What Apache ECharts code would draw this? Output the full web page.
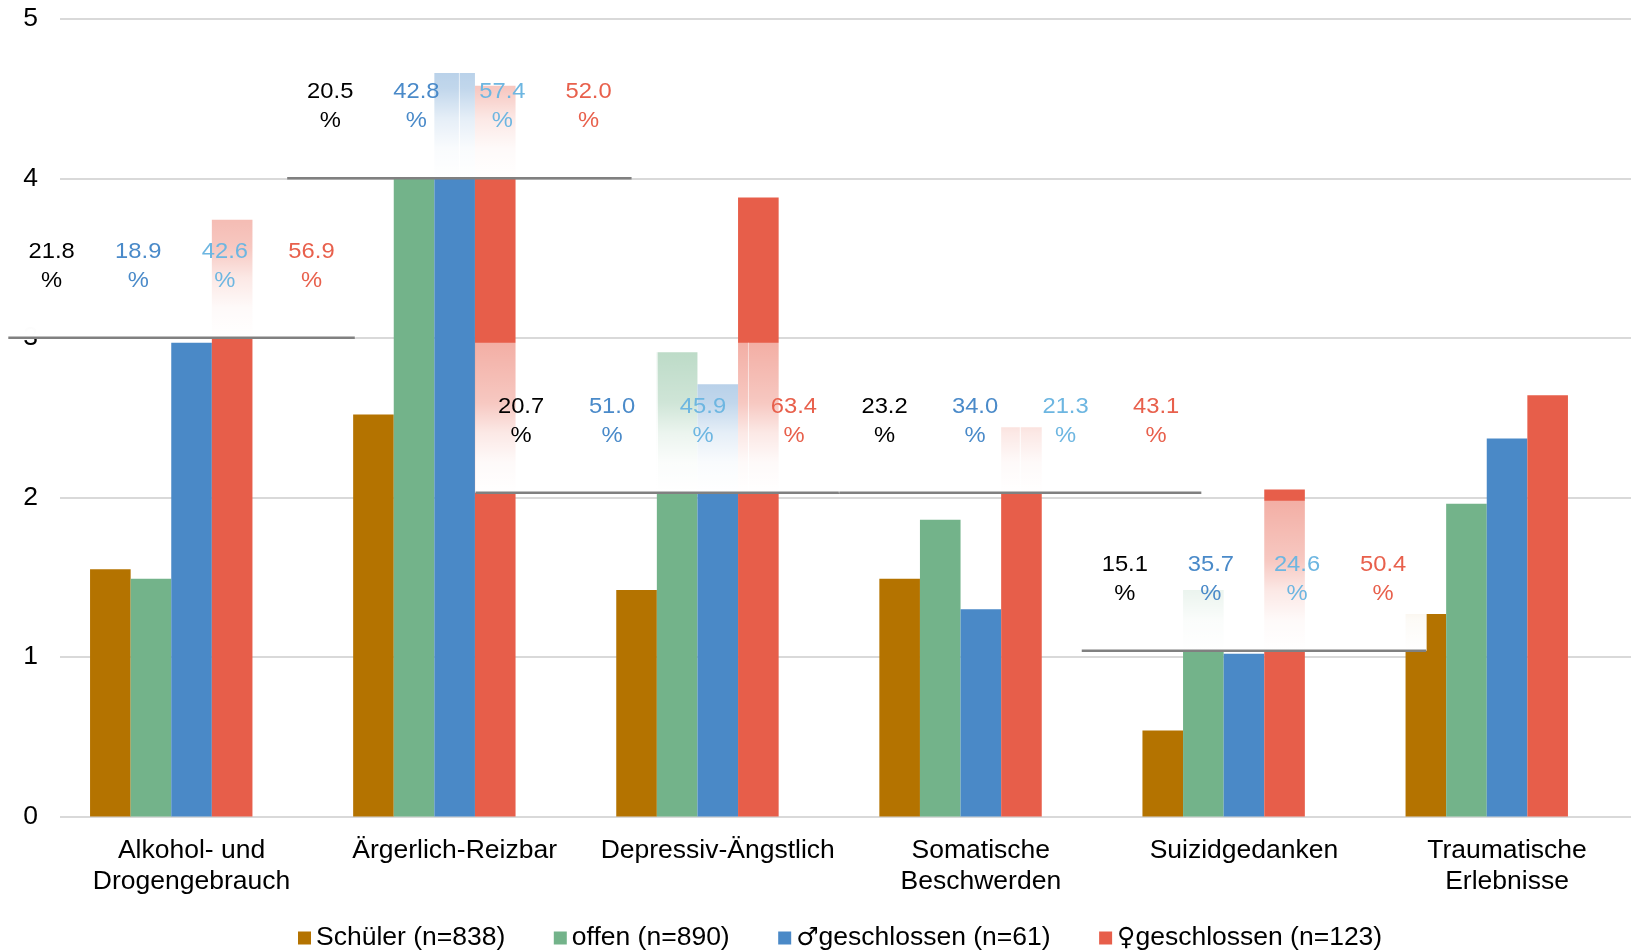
<!DOCTYPE html>
<html>
<head>
<meta charset="utf-8">
<title>Belastungen nach Gruppe</title>
<script src="https://cdn.jsdelivr.net/npm/echarts@6/dist/echarts.min.js"></script>
<style>
  html, body { margin: 0; padding: 0; background: #ffffff; }
  #chart { width: 1631px; height: 950px; }
</style>
</head>
<body>
<div id="chart"></div>
<script>
// Categories along the x axis
const categories = [
  'Alkohol- und\nDrogengebrauch',
  'Ärgerlich-Reizbar',
  'Depressiv-Ängstlich',
  'Somatische\nBeschwerden',
  'Suizidgedanken',
  'Traumatische\nErlebnisse'
];

// Series names
const seriesNames = [
  'Schüler (n=838)',
  'offen (n=890)',
  '♂geschlossen (n=61)',
  '♀geschlossen (n=123)'
];

// Mean scores per group
const schueler    = [1.55, 2.52, 1.42, 1.49, 0.54, 1.27];
const offen       = [1.49, 4.02, 2.91, 1.86, 1.42, 1.96];
const geschlM     = [2.97, 4.66, 2.71, 1.30, 1.02, 2.37];
const geschlW     = [3.74, 4.58, 3.88, 2.44, 2.05, 2.64];

// Percentages shown above the first five categories (one value per column)
const pctSchueler = [21.8, 20.5, 20.7, 23.2, 15.1];
const pctOffen    = [18.9, 42.8, 51.0, 34.0, 35.7];
const pctGeschlM  = [42.6, 57.4, 45.9, 21.3, 24.6];
const pctGeschlW  = [56.9, 52.0, 63.4, 43.1, 50.4];

// Y axis ticks
const yTicks = [0, 1, 2, 3, 4, 5];

// Placement of the percentage panels: base value on the y axis,
// horizontal shift and span measured in category widths
const panelLayout = [
  { cat: 0, base: 3.00, shift: -0.038, span: 1.317 },
  { cat: 1, base: 4.00, shift:  0.018, span: 1.309 },
  { cat: 2, base: 2.03, shift: -0.229, span: 1.383 },
  { cat: 3, base: 2.03, shift:  0.150, span: 1.376 },
  { cat: 4, base: 1.04, shift:  0.038, span: 1.309 }
];
const PANEL_HEIGHT = 0.94;

const FONT = "'Liberation Sans', Arial, Helvetica, sans-serif";
const SYMBOL_FONT = "'DejaVu Sans', 'Liberation Sans', sans-serif";
const barColors = ['#b47300', '#73b38a', '#4a89c7', '#e75e4a'];
const pctColors = ['#000000', '#4a8ac9', '#6db6e1', '#e8604c'];
const pctColumns = [pctSchueler, pctOffen, pctGeschlM, pctGeschlW];

const fade = {
  type: 'linear', x: 0, y: 0, x2: 0, y2: 1,
  colorStops: [
    { offset: 0.0, color: 'rgba(255,255,255,0.50)' },
    { offset: 0.4, color: 'rgba(255,255,255,0.66)' },
    { offset: 0.6, color: 'rgba(255,255,255,0.86)' },
    { offset: 0.8, color: 'rgba(255,255,255,0.97)' },
    { offset: 1.0, color: 'rgba(255,255,255,1)' }
  ]
};

function renderPanel(params, api) {
  const idx = api.value(2);
  const p = panelLayout[idx];
  const cat = api.value(0);
  const baseP = api.coord([cat, p.base]);
  const topP = api.coord([cat, p.base + PANEL_HEIGHT]);
  const band = api.size([1, 0])[0];
  const w = band * p.span;
  const left = baseP[0] + band * p.shift - w / 2;
  const yBottom = baseP[1];
  const yTop = topP[1];
  const colW = w / 4;
  const children = [];
  for (let k = 0; k < 4; k++) {
    children.push({
      type: 'rect',
      shape: { x: left + k * colW - 0.5, y: yTop, width: colW + 1, height: yBottom - yTop },
      style: { fill: fade }
    });
  }
  for (let k = 0; k < 4; k++) {
    children.push({
      type: 'text',
      x: left + (k + 0.5) * colW,
      y: (yTop + yBottom) / 2 + 3.5,
      scaleX: 1.08,
      style: {
        text: pctColumns[k][idx].toFixed(1) + '\n%',
        fill: pctColors[k],
        fontSize: 22,
        fontFamily: FONT,
        align: 'center',
        verticalAlign: 'middle',
        lineHeight: 29
      }
    });
  }
  children.push({
    type: 'line',
    shape: { x1: left, y1: yBottom, x2: left + w, y2: yBottom },
    style: { stroke: '#808080', lineWidth: 2.5 }
  });
  return { type: 'group', children };
}

const groups = [schueler, offen, geschlM, geschlW];

const series = groups.map((vals, i) => ({
  name: seriesNames[i],
  type: 'bar',
  data: vals,
  barWidth: 40.6,
  barGap: '0%',
  itemStyle: { color: barColors[i] },
  z: 2
}));

// empty slot that keeps each group of four bars left of the category centre
series.push({
  name: 'leer',
  type: 'bar',
  data: categories.map(() => '-'),
  barWidth: 40.6,
  barGap: '0%'
});

series.push({
  type: 'custom',
  renderItem: renderPanel,
  clip: false,
  silent: true,
  z: 10,
  encode: { x: 0, y: 1 },
  data: panelLayout.map((p, i) => [p.cat, p.base, i])
});

const chart = echarts.init(document.getElementById('chart'), null, { renderer: 'canvas' });
chart.setOption({
  animation: false,
  backgroundColor: '#ffffff',
  textStyle: { fontFamily: FONT },
  grid: {
    left: 60, top: 18.7, width: 1578.6, bottom: 133.4,
    containLabel: false,
    outerBoundsMode: 'none'
  },
  legend: {
    data: seriesNames,
    left: 293,
    top: 918,
    itemWidth: 13,
    itemHeight: 13,
    itemGap: 48.5,
    icon: 'rect',
    formatter: function (name) {
      const first = name.charAt(0);
      if (first === '♂' || first === '♀') {
        return '{sym|' + first + '}' + name.slice(1);
      }
      return name;
    },
    textStyle: {
      fontSize: 26.5, color: '#000000', fontFamily: FONT, lineHeight: 30,
      rich: {
        sym: { fontFamily: SYMBOL_FONT, fontSize: 25, color: '#000000', lineHeight: 30 }
      }
    }
  },
  xAxis: {
    type: 'category',
    data: categories,
    axisLine: { show: false },
    axisTick: { show: false },
    axisLabel: {
      interval: 0,
      margin: 19,
      fontSize: 26.5,
      lineHeight: 31,
      color: '#000000',
      fontFamily: FONT
    }
  },
  yAxis: {
    type: 'value',
    min: yTicks[0],
    max: yTicks[yTicks.length - 1],
    interval: 1,
    axisLine: { show: false },
    axisTick: { show: false },
    axisLabel: { margin: 22, fontSize: 26.5, color: '#000000', fontFamily: FONT, padding: [4, 0, 0, 0] },
    splitLine: { lineStyle: { color: '#d9d9d9', width: 2 } }
  },
  series
});
</script>
</body>
</html>
